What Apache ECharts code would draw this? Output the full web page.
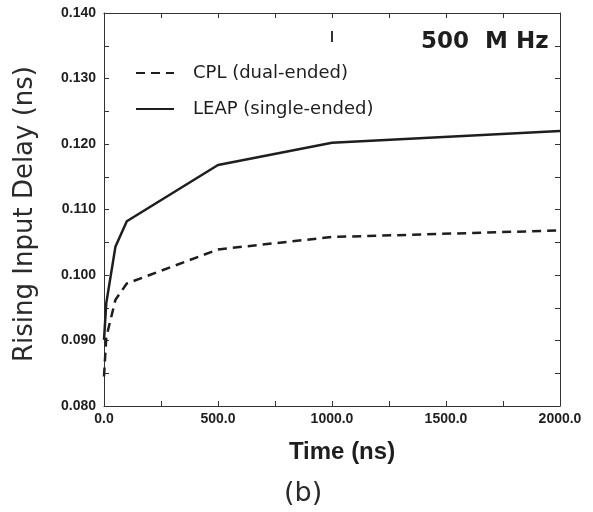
<!DOCTYPE html>
<html>
<head>
<meta charset="utf-8">
<script src="https://cdn.jsdelivr.net/npm/echarts@6/dist/echarts.min.js"></script>
<style>html,body{margin:0;padding:0;background:#fff}#c{width:593px;height:512px}</style>
</head>
<body>
<div id="c"></div>
<script>
const times = [0, 10, 50, 100, 500, 1000, 2000];
const cplDelay = [0.0845, 0.0905, 0.0962, 0.0987, 0.1039, 0.1058, 0.1068];
const leapDelay = [0.0901, 0.0957, 0.1043, 0.1082, 0.1168, 0.1202, 0.1220];
const seriesNames = ['CPL (dual-ended)', 'LEAP (single-ended)'];
const xTitle = 'Time (ns)';
const yTitle = 'Rising Input Delay (ns)';
const freqLabel = '500  M Hz';
const panelLabel = '(b)';

const chart = echarts.init(document.getElementById('c'));
const ink = '#1e1e1e';
const axisCommon = {
  axisLine: {show: true, onZero: false, lineStyle: {color: '#333', width: 1}},
  axisTick: {show: true, inside: true, length: 5, lineStyle: {color: '#333'}},
  minorTick: {show: true, splitNumber: 2, length: 5, lineStyle: {color: '#333'}},
  splitLine: {show: false},
  minorSplitLine: {show: false}
};
chart.setOption({
  animation: false,
  backgroundColor: '#fff',
  grid: {left: 104, right: 33, top: 13, bottom: 106},
  legend: {
    data: seriesNames,
    orient: 'vertical',
    left: 130, top: 59,
    itemWidth: 38, itemHeight: 18, itemGap: 18,
    itemStyle: {opacity: 0},
    textStyle: {fontFamily: 'DejaVu Sans', fontSize: 18, color: ink, padding: [0, 0, 0, 14]}
  },
  xAxis: [
    Object.assign({
      type: 'value', min: 0, max: 2000, interval: 500,
      axisLabel: {formatter: v => v.toFixed(1), fontFamily: 'Liberation Sans', fontWeight: 'bold', fontSize: 14, color: ink, margin: 6},
      name: xTitle, nameLocation: 'middle', nameGap: 34,
      nameTextStyle: {fontFamily: 'Liberation Sans', fontWeight: 'bold', fontSize: 24, color: ink, padding: [0, 0, 0, 20]}
    }, axisCommon),
    Object.assign({
      type: 'value', min: 0, max: 2000, interval: 500, position: 'top',
      axisLabel: {show: false}
    }, axisCommon)
  ],
  yAxis: [
    Object.assign({
      type: 'value', min: 0.08, max: 0.14, interval: 0.01,
      axisLabel: {formatter: v => v.toFixed(3), fontFamily: 'Liberation Sans', fontWeight: 'bold', fontSize: 14, color: ink, margin: 8},
      name: yTitle, nameLocation: 'middle', nameGap: 66,
      nameTextStyle: {fontFamily: 'DejaVu Sans', fontSize: 26, color: '#2a2a2a', padding: [0, 9, 0, 0]}
    }, axisCommon),
    Object.assign({
      type: 'value', min: 0.08, max: 0.14, interval: 0.01, position: 'right',
      axisLabel: {show: false}
    }, axisCommon)
  ],
  graphic: [
    {type: 'text', left: 421, top: 31, style: {text: freqLabel, fontFamily: 'DejaVu Sans', fontWeight: 'bold', fontSize: 23, fill: ink}},
    {type: 'rect', shape: {x: 331, y: 31, width: 2, height: 11}, style: {fill: '#333'}},
    {type: 'text', left: 284, top: 480, style: {text: panelLabel, fontFamily: 'DejaVu Sans', fontSize: 27, fill: '#2a2a2a'}}
  ],
  series: [
    {
      name: seriesNames[0], type: 'line', symbol: 'none', showSymbol: false,
      data: times.map((t, i) => [t, cplDelay[i]]),
      lineStyle: {color: ink, width: 2.5, type: [9, 6]},
      itemStyle: {color: ink}
    },
    {
      name: seriesNames[1], type: 'line', symbol: 'none', showSymbol: false,
      data: times.map((t, i) => [t, leapDelay[i]]),
      lineStyle: {color: ink, width: 2.5},
      itemStyle: {color: ink}
    }
  ]
});
</script>
</body>
</html>
